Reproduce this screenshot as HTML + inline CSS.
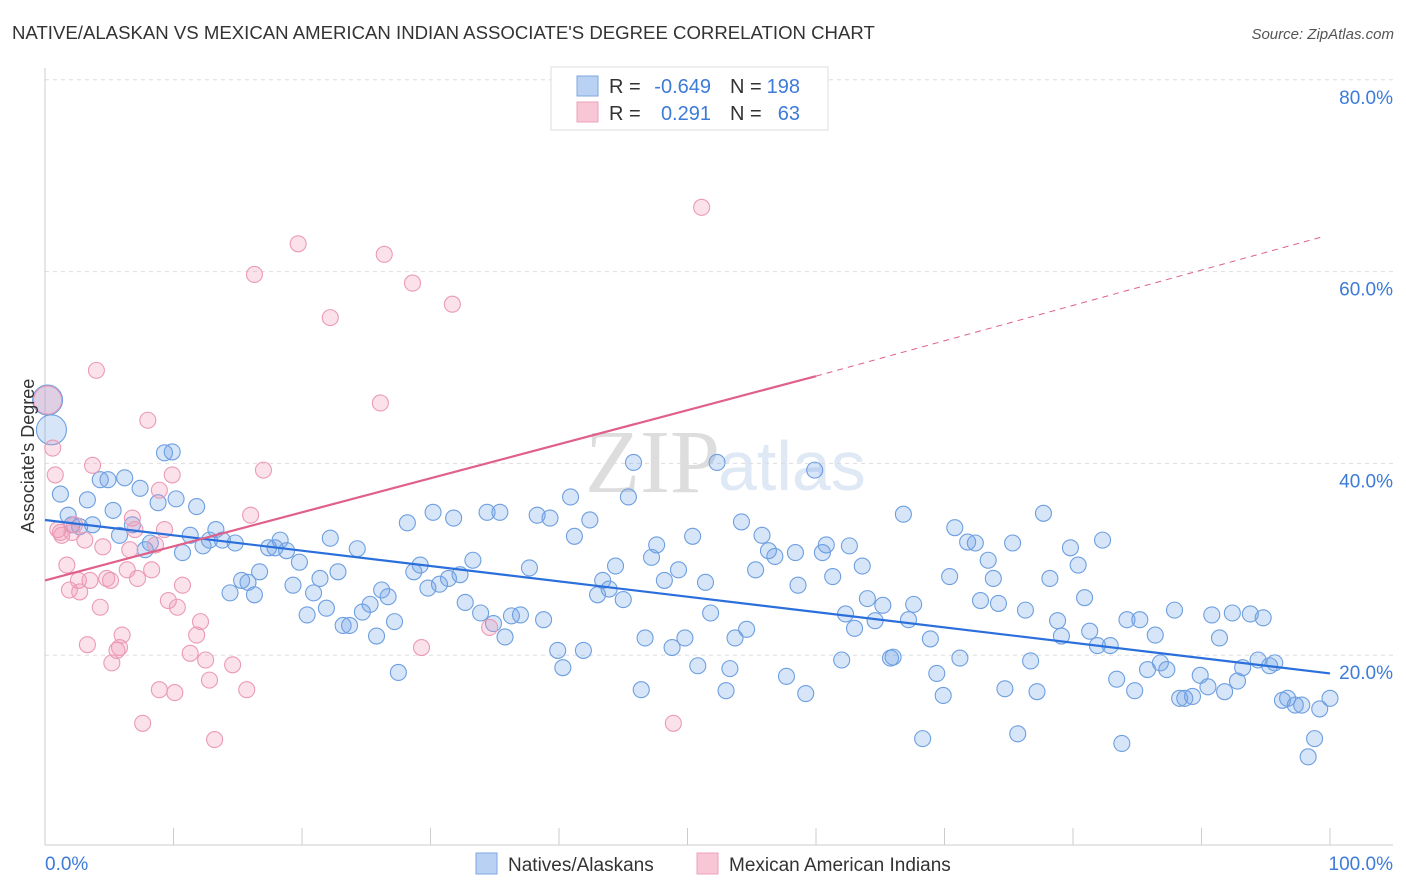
<!DOCTYPE html>
<html><head><meta charset="utf-8"><style>
body{margin:0;background:#fff;font-family:"Liberation Sans",sans-serif;}
svg{display:block}
</style></head><body>
<svg id="chart" width="1406" height="892">
<text x="12" y="39" font-size="18.6" fill="#333">NATIVE/ALASKAN VS MEXICAN AMERICAN INDIAN ASSOCIATE'S DEGREE CORRELATION CHART</text>
<text x="1394" y="39" font-size="15" fill="#555" font-style="italic" text-anchor="end">Source: ZipAtlas.com</text>
<text x="720" y="492" font-size="90" fill="#ddd" text-anchor="end" font-family="Liberation Serif, serif">ZIP</text>
<text x="718" y="490" font-size="70" fill="#dfe8f5">atlas</text>
<g id="grid"></g><g id="axes"></g><g id="pts"></g><g id="lines"></g>
<text transform="translate(34,456) rotate(-90)" font-size="18" fill="#333" text-anchor="middle">Associate's Degree</text>
<g>
<rect x="551" y="67" width="277" height="63" fill="#fff" stroke="#ddd"/>
<rect x="577" y="76" width="21" height="20" fill="#b9d1f3" stroke="#7fa6e0"/>
<rect x="577" y="102" width="21" height="20" fill="#f8c6d5" stroke="#eba3bb"/>
<text x="609" y="93" font-size="20" fill="#333">R = </text><text x="711" y="93" font-size="20" fill="#3d7bd9" text-anchor="end">-0.649</text>
<text x="730" y="93" font-size="20" fill="#333">N = </text><text x="800" y="93" font-size="20" fill="#3d7bd9" text-anchor="end">198</text>
<text x="609" y="120" font-size="20" fill="#333">R = </text><text x="711" y="120" font-size="20" fill="#3d7bd9" text-anchor="end">0.291</text>
<text x="730" y="120" font-size="20" fill="#333">N = </text><text x="800" y="120" font-size="20" fill="#3d7bd9" text-anchor="end">63</text>
</g>
<g>
<rect x="476" y="853" width="21" height="21" fill="#b9d1f3" stroke="#7fa6e0"/>
<text x="508" y="871" font-size="19" fill="#333">Natives/Alaskans</text>
<rect x="697" y="853" width="21" height="21" fill="#f8c6d5" stroke="#eba3bb"/>
<text x="729" y="871" font-size="19" fill="#333">Mexican American Indians</text>
</g>
</svg>
<script>
const yTicks=[20,40,60,80];
const xTickLabels=["0.0%","100.0%"];
const natX=[0.2,0.5,1.2,1.8,2.1,2.7,3.3,3.7,4.3,4.9,5.3,5.8,6.2,6.8,7.4,7.8,8.2,8.8,9.3,9.9,10.2,10.7,11.3,11.8,12.3,12.8,13.3,13.8,14.4,14.8,15.3,15.8,16.3,16.7,17.4,17.9,18.3,18.8,19.3,19.8,20.4,20.9,21.4,21.9,22.2,22.8,23.2,23.7,24.3,24.7,25.3,25.8,26.2,26.7,27.2,27.5,28.2,28.7,29.2,29.8,30.2,30.7,31.4,31.8,32.3,32.7,33.3,33.9,34.4,34.9,35.4,35.8,36.3,37.0,37.7,38.3,38.8,39.3,39.9,40.3,40.9,41.2,41.9,42.4,43.0,43.4,43.9,44.4,45.0,45.4,45.8,46.4,46.7,47.2,47.6,48.2,48.8,49.3,49.8,50.4,50.8,51.4,51.8,52.3,53.0,53.3,53.7,54.2,54.6,55.3,55.8,56.3,56.8,57.7,58.4,58.6,59.2,59.9,60.5,60.8,61.3,62.0,62.3,62.6,63.0,63.6,64.0,64.6,65.2,65.8,66.0,66.8,67.2,67.6,68.3,68.9,69.4,69.9,70.4,70.8,71.2,71.8,72.4,72.8,73.4,73.8,74.2,74.7,75.3,75.7,76.3,76.7,77.2,77.7,78.2,78.8,79.1,79.8,80.4,80.9,81.3,81.9,82.3,82.9,83.4,83.8,84.2,84.8,85.2,85.8,86.4,86.8,87.3,87.9,88.3,88.7,89.3,89.9,90.5,90.8,91.4,91.8,92.4,92.8,93.2,93.8,94.4,94.8,95.3,95.7,96.3,96.7,97.3,97.8,98.3,98.8,99.2,100];
const natY=[46.6,43.5,36.8,34.6,33.6,33.4,36.2,33.6,38.3,38.3,35.1,32.5,38.5,33.6,37.4,31.0,31.7,35.9,41.1,41.2,36.3,30.7,32.5,35.5,31.4,32.0,33.1,32.0,26.5,31.7,27.8,27.6,26.3,28.7,31.2,31.2,32.0,30.9,27.3,29.7,24.2,26.5,28.0,24.9,32.2,28.7,23.1,23.1,31.1,24.5,25.3,22.0,26.8,26.1,23.5,18.2,33.8,28.7,29.4,27.0,34.9,27.4,28.0,34.3,28.4,25.5,29.9,24.4,34.9,23.3,34.9,21.9,24.1,24.2,29.1,34.6,23.7,34.3,20.5,18.7,36.5,32.4,20.5,34.1,26.3,27.8,26.9,29.3,25.8,36.5,40.1,16.4,21.8,30.2,31.5,27.8,20.8,28.9,21.8,32.4,18.9,27.6,24.4,40.1,16.3,18.6,21.8,33.9,22.7,28.9,32.5,30.9,30.3,17.8,30.7,27.3,16.0,39.3,30.7,31.5,28.2,19.5,24.3,31.4,22.8,29.3,25.9,23.6,25.2,19.7,19.8,34.7,23.7,25.3,11.3,21.7,18.1,15.8,28.2,33.3,19.7,31.8,31.7,25.7,29.9,28.0,25.4,16.5,31.7,11.8,24.7,19.4,16.2,34.8,28.0,23.6,22.0,31.2,29.4,26.0,22.5,21.0,32.0,21.0,17.5,10.8,23.7,16.3,23.7,18.5,22.1,19.2,18.5,24.7,15.5,15.5,15.7,17.9,16.7,24.2,21.8,16.2,24.4,17.3,18.7,24.3,19.5,23.9,18.9,19.2,15.3,15.5,14.8,14.8,9.4,11.3,14.4,15.5];
const mexX=[0.2,0.6,0.8,1.0,1.3,1.7,1.9,2.3,2.6,2.7,3.1,3.3,3.5,3.7,4.0,4.3,4.5,4.8,5.1,5.2,5.6,5.8,6.0,6.4,6.6,6.8,7.0,7.2,7.6,8.0,8.3,8.6,8.9,8.9,9.3,9.6,9.9,10.1,10.3,10.7,11.3,11.8,12.1,12.5,12.8,13.2,14.6,15.7,16.0,16.3,17.0,19.7,22.2,26.1,26.4,28.6,29.3,31.7,34.6,48.9,51.1,1.2,2.1];
const mexY=[46.6,41.6,38.8,33.1,32.5,29.4,26.8,33.6,27.8,26.6,32.0,21.1,27.8,39.8,49.7,25.0,31.3,28.0,27.8,19.2,20.5,20.8,22.1,28.9,31.0,34.3,33.1,28.0,12.9,44.5,28.9,31.5,16.4,37.2,33.1,25.7,38.8,16.1,25.0,27.3,20.2,22.1,23.5,19.5,17.4,11.2,19.0,16.4,34.6,59.7,39.3,62.9,55.2,46.3,61.8,58.8,20.8,56.6,22.9,12.9,66.7,32.8,32.8];
const natTrend=[34.1,18.1];
const mexTrend=[27.8,49.1,63.7];
const mexTrendX=[0,60,99.6];

const NS="http://www.w3.org/2000/svg";
const sx=v=>45+v*12.85;
const sy=v=>847-v*9.59;
function mk(tag,attrs,parent){const e=document.createElementNS(NS,tag);for(const k in attrs)e.setAttribute(k,attrs[k]);parent.appendChild(e);return e;}
const grid=document.getElementById('grid'),axes=document.getElementById('axes'),pts=document.getElementById('pts'),lines=document.getElementById('lines');
yTicks.forEach(t=>{
 const l=mk('line',{x1:45,x2:1393,y1:sy(t),y2:sy(t),stroke:'#ddd','stroke-dasharray':'4,4'},grid);
 
 
 const tx=mk('text',{x:1393,y:sy(t)+24,'font-size':19,fill:'#3d7bd9','text-anchor':'end'},grid);
 tx.textContent=t.toFixed(1)+'%';
 
 
});
const xl=mk('line',{x1:45,x2:1393,y1:845,y2:845,stroke:'#ccc'},axes);


const yl=mk('line',{x1:45,x2:45,y1:68,y2:845,stroke:'#ccc'},axes);


for(let i=0;i<=10;i++){
 const t=mk('line',{x1:sx(i*10),x2:sx(i*10),y1:828,y2:845,stroke:'#ccc'},axes);
 
 
}
[[0,'start'],[100,'end']].forEach((p,i)=>{
 const tx=mk('text',{x:i?1393:45,y:870,'font-size':19,fill:'#3d7bd9','text-anchor':p[1]},axes);
 tx.textContent=xTickLabels[i];
 
 
});
natX.forEach((x,i)=>{
 const big=i<2;
 const c=mk('circle',{cx:sx(x),cy:sy(natY[i]),r:big?15:8,fill:'rgba(110,160,230,0.28)',stroke:'#6d9fe0','stroke-width':1.1},pts);
 
 
});
mexX.forEach((x,i)=>{
 const c=mk('circle',{cx:sx(x),cy:sy(mexY[i]),r:i==0?14:8,fill:'rgba(240,150,180,0.28)',stroke:'#eb9ab5','stroke-width':1.1},pts);
 
 
});
const bt=mk('line',{x1:sx(0),y1:sy(natTrend[0]),x2:sx(100),y2:sy(natTrend[1]),stroke:'#2a6fdb','stroke-width':2.2},lines);


const pt=mk('line',{x1:sx(mexTrendX[0]),y1:sy(mexTrend[0]),x2:sx(mexTrendX[1]),y2:sy(mexTrend[1]),stroke:'#e0608a','stroke-width':2.2},lines);


const pd=mk('line',{x1:sx(mexTrendX[1]),y1:sy(mexTrend[1]),x2:sx(mexTrendX[2]),y2:sy(mexTrend[2]),stroke:'#e0608a','stroke-width':1,'stroke-dasharray':'6,5'},lines);


</script>
</body></html>
